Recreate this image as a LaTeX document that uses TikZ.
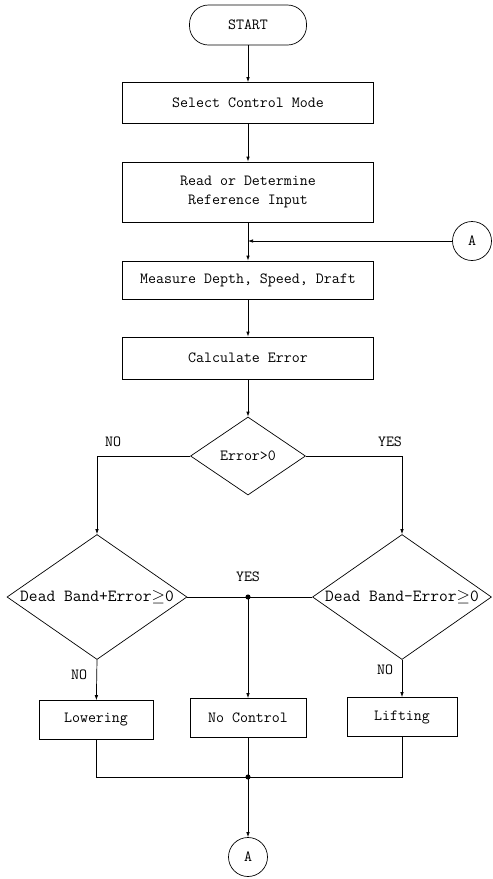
\documentclass[tikz,border=0pt]{standalone}
\usetikzlibrary{shapes.geometric,arrows.meta}
\begin{document}
\begin{tikzpicture}[x=1pt, y=-1pt, line width=0.7pt, >={Latex[length=5pt,width=3.5pt]},
		font=\ttfamily\fontsize{15.5}{19}\selectfont,
		box/.style={draw, inner sep=2pt},
		test/.style={draw, diamond, aspect=1.45, inner sep=0pt},
		conn/.style={draw, circle, minimum size=39pt, inner sep=0pt},
		dot/.style={circle, fill, inner sep=1.8pt}]
	\useasboundingbox (0,0) rectangle (493,879);
	
	\node (start) at (248,25) [box, rounded corners=19pt, minimum width=117pt, minimum height=40pt]{START};
	\node (select) at (248,103) [box, minimum width=251pt, minimum height=41pt]{Select Control Mode};
	\node (read) at (248,192) [box, minimum width=251pt, minimum height=60pt, align=center]{Read or Determine\\Reference Input};
	\node (measure) at (248,280) [box, minimum width=251pt, minimum height=38pt]{Measure Depth, Speed, Draft};
	\node (calc) at (248,358) [box, minimum width=251pt, minimum height=42pt]{Calculate Error};
	\node (err) at (248,456) [test, minimum width=115pt, minimum height=78pt]{Error>0};
	
	\node (dbplus) at (97,597) [test, minimum width=180pt, minimum height=125pt, font=\ttfamily\fontsize{17}{19}\selectfont]{Dead Band+Error$\geq$0};
	\node (dbminus) at (402,597) [test, minimum width=179pt, minimum height=125pt, font=\ttfamily\fontsize{17}{19}\selectfont]{Dead Band-Error$\geq$0};
	
	\node (lower) at (96,720) [box, minimum width=114pt, minimum height=39pt]{Lowering};
	\node (nocontrol) at (248,718) [box, minimum width=116pt, minimum height=39pt]{No Control};
	\node (lift) at (402,717) [box, minimum width=110pt, minimum height=39pt]{Lifting};
	
	\node (Ain) at (472,241) [conn]{A};
	\node (Aout) at (248,857) [conn]{A};
	
	\coordinate (jin) at (248,241);
	\coordinate (jyes) at (248,597);
	\coordinate (jout) at (248,777);
	
	% main line
	\draw[->] (start) -- (select);
	\draw[->] (select) -- (read);
	\draw (read) -- (jin);
	\draw[->] (Ain) -- (jin);
	\draw[->] (jin) -- (measure);
	\draw[->] (measure) -- (calc);
	\draw[->] (calc) -- (err);
	
	% branches
	\draw[->] (err.west) -| (dbplus.north);
	\draw[->] (err.east) -| (dbminus.north);
	\node at (113,442){NO};
	\node at (390,442){YES};
	
	\draw (dbplus.east) -- (dbminus.west);
	\node at (jyes) [dot]{};
	\node at (248,577){YES};
	\draw[->] (jyes) -- (nocontrol);
	
	\draw[->] (dbplus.south) -- (lower);
	\node at (79,675){NO};
	\draw[->] (dbminus.south) -- (lift);
	\node at (385,670){NO};
	
	% merge
	\draw (lower.south) |- (jout);
	\draw (lift.south) |- (jout);
	\draw (nocontrol) -- (jout);
	\node at (jout) [dot]{};
	\draw[->] (jout) -- (Aout);
\end{tikzpicture}
\end{document}
